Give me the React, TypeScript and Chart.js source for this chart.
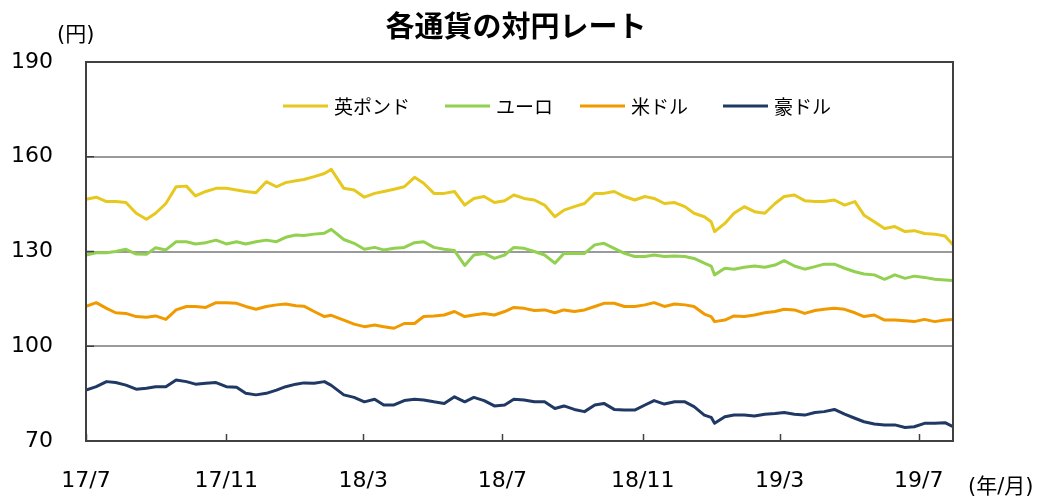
import React, { useEffect, useRef } from "react";
import { Chart, registerables } from "chart.js";

Chart.register(...registerables);

// ---- data ----
const dates = [
  "2017-07-01", "2017-07-10", "2017-07-19", "2017-07-27", "2017-08-05", "2017-08-14", "2017-08-23", "2017-08-31",
  "2017-09-09", "2017-09-18", "2017-09-27", "2017-10-05", "2017-10-14", "2017-10-23", "2017-11-01", "2017-11-10",
  "2017-11-18", "2017-11-27", "2017-12-06", "2017-12-15", "2017-12-23", "2018-01-01", "2018-01-08",
  "2018-01-17", "2018-01-26", "2018-02-01", "2018-02-12", "2018-02-21", "2018-03-02", "2018-03-11", "2018-03-19",
  "2018-03-28", "2018-04-06", "2018-04-15", "2018-04-23", "2018-05-02", "2018-05-11", "2018-05-20", "2018-05-29",
  "2018-06-06", "2018-06-15", "2018-06-24", "2018-07-03", "2018-07-11",
  "2018-07-20", "2018-07-29", "2018-08-07", "2018-08-16", "2018-08-24", "2018-09-02", "2018-09-11", "2018-09-20",
  "2018-09-28", "2018-10-07", "2018-10-16", "2018-10-25", "2018-11-03", "2018-11-11", "2018-11-20", "2018-11-29",
  "2018-12-08", "2018-12-16", "2018-12-25", "2018-12-31", "2019-01-03", "2019-01-12", "2019-01-20",
  "2019-01-29", "2019-02-07", "2019-02-16", "2019-02-25", "2019-03-05", "2019-03-14", "2019-03-23", "2019-04-01",
  "2019-04-09", "2019-04-18", "2019-04-27", "2019-05-06", "2019-05-14", "2019-05-23", "2019-06-01", "2019-06-10",
  "2019-06-19", "2019-06-27", "2019-07-06", "2019-07-15", "2019-07-24", "2019-07-31",
];

const gbp = [
  146.5, 147.2, 145.8, 145.8, 145.5, 142.1, 140.2, 142.1,
  145.2, 150.5, 150.7, 147.6, 149.0, 150.0, 150.0, 149.5,
  149.0, 148.6, 152.1, 150.5, 151.8, 152.4, 152.8,
  153.7, 154.7, 156.0, 150.0, 149.5, 147.2, 148.4, 149.0,
  149.7, 150.5, 153.5, 151.6, 148.4, 148.4, 149.0, 144.7,
  146.8, 147.4, 145.5, 146.1, 147.9,
  146.8, 146.3, 144.7, 141.0, 143.1, 144.2, 145.2, 148.4,
  148.4, 149.0, 147.4, 146.3, 147.4, 146.8, 145.2, 145.5,
  144.2, 142.1, 141.0, 139.4, 136.3, 138.9, 142.1,
  144.2, 142.6, 142.1, 145.2, 147.4, 147.9, 146.1, 145.8,
  145.8, 146.3, 144.7, 145.8, 141.5, 139.4, 137.3, 137.9,
  136.3, 136.6, 135.7, 135.5, 134.9, 132.1,
];

const eur = [
  128.9, 129.6, 129.6, 130.0, 130.7, 129.2, 129.1, 131.2,
  130.5, 133.1, 133.1, 132.4, 132.8, 133.6, 132.4, 133.1,
  132.4, 133.1, 133.6, 133.1, 134.5, 135.2, 135.1,
  135.5, 135.8, 137.0, 133.8, 132.6, 130.7, 131.3, 130.5,
  131.0, 131.3, 132.8, 133.1, 131.3, 130.7, 130.3, 125.6,
  128.9, 129.4, 127.8, 128.9, 131.3,
  131.0, 130.0, 128.9, 126.3, 129.4, 129.4, 129.4, 132.1,
  132.6, 131.0, 129.4, 128.4, 128.4, 128.9, 128.4, 128.6,
  128.4, 127.8, 126.3, 125.4, 122.6, 124.7, 124.4,
  125.0, 125.4, 125.0, 125.7, 127.1, 125.4, 124.4, 125.2,
  126.0, 126.0, 124.7, 123.6, 122.9, 122.6, 121.2, 122.6,
  121.5, 122.2, 121.8, 121.2, 121.0, 120.8,
];

const usd = [
  112.6, 113.8, 112.0, 110.6, 110.4, 109.4, 109.2, 109.6,
  108.5, 111.5, 112.6, 112.6, 112.3, 113.8, 113.8, 113.6,
  112.6, 111.7, 112.6, 113.1, 113.4, 112.8, 112.7,
  111.0, 109.4, 109.8, 108.3, 107.0, 106.2, 106.7, 106.2,
  105.7, 107.2, 107.2, 109.4, 109.6, 109.9, 111.0, 109.4,
  109.9, 110.4, 109.9, 111.0, 112.3,
  112.0, 111.3, 111.5, 110.6, 111.5, 111.0, 111.5, 112.6,
  113.6, 113.6, 112.6, 112.6, 113.1, 113.8, 112.6, 113.4,
  113.1, 112.6, 110.2, 109.4, 107.8, 108.3, 109.6,
  109.4, 109.9, 110.6, 111.0, 111.7, 111.5, 110.4, 111.3,
  111.7, 112.0, 111.7, 110.6, 109.4, 109.9, 108.3, 108.3,
  108.1, 107.8, 108.5, 107.8, 108.3, 108.5,
];

const aud = [
  86.1, 87.2, 88.8, 88.5, 87.7, 86.4, 86.7, 87.2,
  87.2, 89.3, 88.8, 88.0, 88.3, 88.5, 87.2, 87.0,
  85.1, 84.6, 85.1, 86.1, 87.2, 88.0, 88.4,
  88.3, 88.8, 87.6, 84.6, 83.8, 82.4, 83.2, 81.4,
  81.4, 82.8, 83.2, 83.0, 82.4, 81.9, 84.0, 82.4,
  83.8, 82.8, 81.1, 81.4, 83.2,
  83.0, 82.4, 82.4, 80.3, 81.1, 80.0, 79.3, 81.4,
  81.9, 80.0, 79.8, 79.8, 81.4, 82.8, 81.7, 82.4,
  82.4, 80.9, 78.2, 77.5, 75.6, 77.7, 78.2,
  78.2, 77.9, 78.5, 78.7, 79.0, 78.5, 78.2, 79.0,
  79.3, 80.0, 78.5, 77.2, 76.1, 75.4, 75.1, 75.1,
  74.3, 74.5, 75.6, 75.6, 75.8, 74.5,
];

const seriesNames = ["英ポンド", "ユーロ", "米ドル", "豪ドル"];
const seriesColors = ["#E6C81E", "#92D050", "#F09A00", "#1F3864"];
const tickDates = ["2017-07-01", "2017-11-01", "2018-03-01", "2018-07-01", "2018-11-01", "2019-03-01", "2019-07-01"];
const tickLabels = ["17/7", "17/11", "18/3", "18/7", "18/11", "19/3", "19/7"];
const yMin = 70;
const yMax = 190;
const yStep = 30;
const titleText = "各通貨の対円レート";
const yUnit = "(円)";
const xUnit = "(年/月)";
const endDate = "2019-07-31";

const BASE = Date.UTC(2017, 6, 1);
function dayOf(s: string): number {
  const [y, m, d] = s.split("-").map(Number);
  return (Date.UTC(y, m - 1, d) - BASE) / 86400000;
}

const LATIN = "'DejaVu Sans', 'Noto Sans CJK JP', sans-serif";
const CJK = "'Noto Sans CJK JP', sans-serif";

const decorPlugin = {
  id: "decor",
  beforeDraw(chart: any) {
    const ctx = chart.ctx;
    ctx.save();
    ctx.fillStyle = "#ffffff";
    ctx.fillRect(0, 0, chart.width, chart.height);
    ctx.restore();
  },
  afterDraw(chart: any) {
    const ctx = chart.ctx;
    const a = chart.chartArea;
    const xs = chart.scales.x;
    const ys = chart.scales.y;
    ctx.save();
    // frame
    ctx.strokeStyle = "#404040";
    ctx.lineWidth = 2;
    ctx.strokeRect(a.left, a.top, a.right - a.left, a.bottom - a.top);
    // inside tick marks on x axis
    ctx.lineWidth = 1.5;
    tickDates.forEach((d) => {
      const x = Math.round(xs.getPixelForValue(dayOf(d))) + 0.5;
      ctx.beginPath();
      ctx.moveTo(x, a.bottom);
      ctx.lineTo(x, a.bottom - 7);
      ctx.stroke();
    });
    // inside tick marks on y axis
    for (let v = yMin + yStep; v < yMax; v += yStep) {
      const y = ys.getPixelForValue(v);
      ctx.beginPath();
      ctx.moveTo(a.left, y);
      ctx.lineTo(a.left + 8, y);
      ctx.stroke();
    }
    // title
    ctx.fillStyle = "#000";
    ctx.textAlign = "center";
    ctx.textBaseline = "middle";
    ctx.font = "bold 29px " + CJK;
    ctx.fillText(titleText, 516, 26);
    // units
    ctx.font = "21px " + LATIN;
    ctx.textAlign = "left";
    ctx.fillText(yUnit, 57, 36);
    ctx.fillText(xUnit, 968, 488);
    // legend
    const legendX = [283, 445, 580, 723];
    const ly = 106;
    ctx.font = "19px " + CJK;
    seriesNames.forEach((name, i) => {
      const x0 = legendX[i];
      ctx.strokeStyle = seriesColors[i];
      ctx.lineWidth = 3;
      ctx.beginPath();
      ctx.moveTo(x0, ly);
      ctx.lineTo(x0 + 45, ly);
      ctx.stroke();
      ctx.fillStyle = "#000";
      ctx.textAlign = "left";
      ctx.textBaseline = "middle";
      ctx.fillText(name, x0 + 51, ly + 1);
    });
    ctx.restore();
  },
};

export default function App() {
  const ref = useRef<HTMLCanvasElement>(null);
  useEffect(() => {
    if (!ref.current) return;
    const seriesValues = [gbp, eur, usd, aud];
    const xs = dates.map(dayOf);
    const chart = new Chart(ref.current, {
      type: "line",
      data: {
        datasets: seriesNames.map((name, i) => ({
          label: name,
          data: seriesValues[i].map((v, j) => ({ x: xs[j], y: v })),
          borderColor: seriesColors[i],
          backgroundColor: seriesColors[i],
          borderWidth: 3,
          pointRadius: 0,
          tension: 0,
          borderJoinStyle: "round" as const,
        })),
      },
      options: {
        responsive: false,
        animation: false,
        devicePixelRatio: 1,
        layout: { padding: { left: 0, right: 92, top: 62, bottom: 0 } },
        plugins: {
          legend: { display: false },
          title: { display: false },
          tooltip: { enabled: false },
        },
        scales: {
          x: {
            type: "linear",
            min: 0,
            max: dayOf(endDate),
            afterBuildTicks: (scale: any) => {
              scale.ticks = tickDates.map((d) => ({ value: dayOf(d) }));
            },
            afterFit: (scale: any) => {
              scale.height = 57;
            },
            grid: { display: false, drawTicks: false },
            border: { display: false },
            ticks: {
              autoSkip: false,
              maxRotation: 0,
              padding: 27,
              color: "#000",
              font: { family: LATIN, size: 22 },
              callback: (value: any) => {
                const idx = tickDates.findIndex((d) => dayOf(d) === value);
                return idx >= 0 ? tickLabels[idx] : "";
              },
            },
          },
          y: {
            min: yMin,
            max: yMax,
            afterFit: (scale: any) => {
              scale.width = 86;
            },
            grid: {
              drawTicks: false,
              lineWidth: 2,
              color: (c: any) =>
                c.tick && (c.tick.value === yMin || c.tick.value === yMax) ? "rgba(0,0,0,0)" : "#9a9a9a",
            },
            border: { display: false },
            ticks: {
              stepSize: yStep,
              padding: 33,
              color: "#000",
              font: { family: LATIN, size: 22 },
            },
          },
        },
      },
      plugins: [decorPlugin],
    });
    return () => chart.destroy();
  }, []);
  return (
    <div style={{ position: "absolute", left: 0, top: 0, width: 1045, height: 498 }}>
      <canvas ref={ref} width={1045} height={498} />
    </div>
  );
}
